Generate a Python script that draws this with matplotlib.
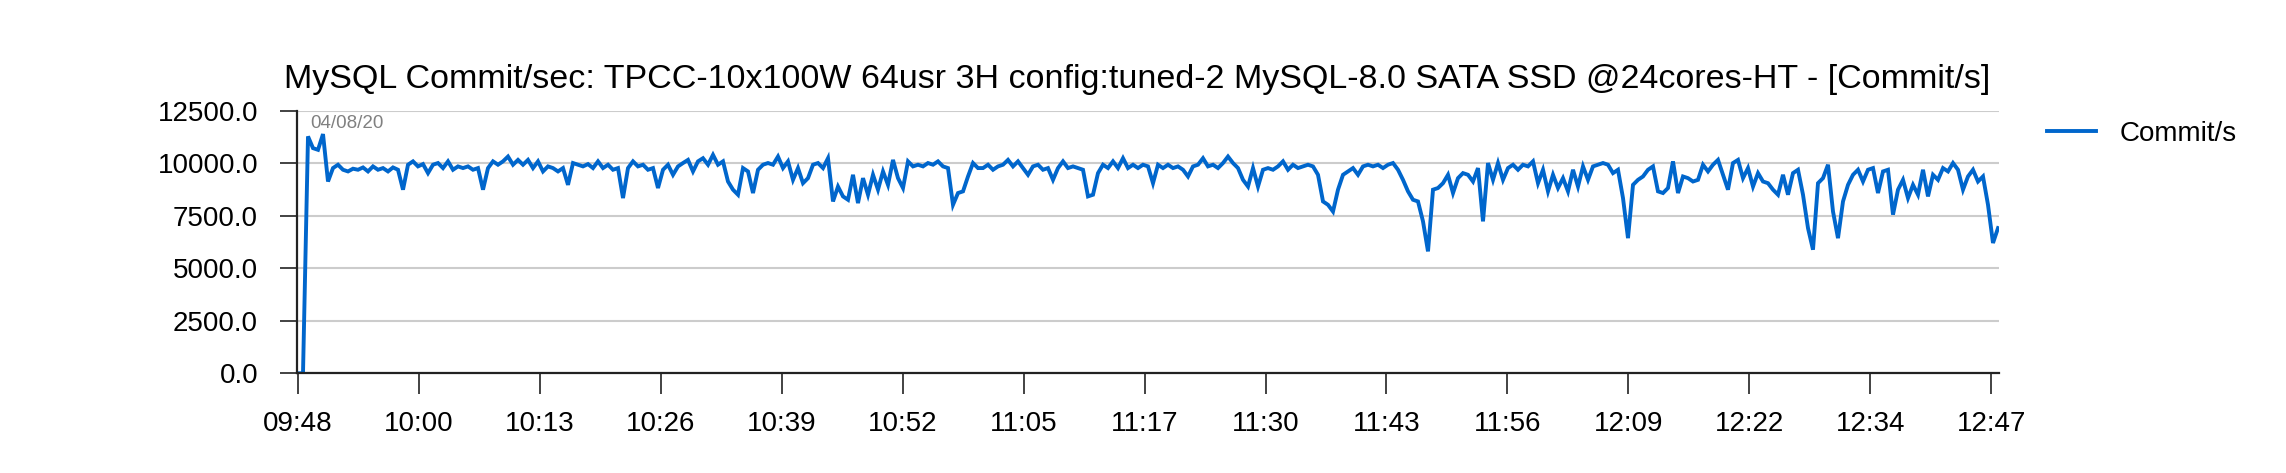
import numpy as np
import matplotlib
matplotlib.use("Agg")
from matplotlib import pyplot as plt
from matplotlib.ticker import FormatStrFormatter

plt.rcParams['font.family'] = ['Liberation Sans', 'DejaVu Sans']

title = "MySQL Commit/sec: TPCC-10x100W 64usr 3H config:tuned-2 MySQL-8.0 SATA SSD @24cores-HT - [Commit/s]"
series_label = "Commit/s"
date_label = "04/08/20"

x_tick_labels = ["09:48", "10:00", "10:13", "10:26", "10:39", "10:52", "11:05", "11:17",
                 "11:30", "11:43", "11:56", "12:09", "12:22", "12:34", "12:47"]
y_ticks = [0, 2500, 5000, 7500, 10000, 12500]

# commit/s samples (evenly spaced in time)
commits_part1 = [
    0, 0, 11290, 10730, 10650, 11400, 9140, 9780, 9940, 9700,
    9620, 9750, 9700, 9810, 9620, 9860, 9700, 9780, 9620, 9810,
    9700, 8750, 9940, 10100, 9860, 9970, 9540, 9940, 10020, 9780,
    10100, 9700, 9860, 9780, 9860, 9700, 9780, 8750, 9780, 10100,
    9940, 10100, 10330, 9940, 10170, 9940, 10170, 9780, 10100, 9620,
    9860, 9780, 9620, 9780, 8980, 10020, 9940, 9860, 9970, 9780,
    10100, 9780, 9940, 9700, 9780, 8350, 9780, 10100, 9860,
]
commits_part2 = [
    9940, 9700, 9780, 8830, 9700, 9940, 9460, 9860, 10020, 10170,
    9620, 10100, 10250, 9940, 10410, 9940, 10100, 9140, 8750, 8510,
    9780, 9620, 8590, 9700, 9940, 10020, 9940, 10330, 9780, 10100,
    9220, 9780, 9060, 9300, 9940, 10020, 9780, 10250, 8190, 8900,
    8430, 8270, 9460, 8110, 9300, 8510, 9460, 8750, 9620, 8980,
    10170, 9300, 8830, 10100, 9860, 9940, 9860, 10020, 9940, 10100,
    9860, 9780, 8030, 8590, 8670, 9380, 10020, 9780,
]
commits_part3 = [
    9780, 9940, 9700, 9860, 9940, 10170, 9860, 10100, 9780, 9460,
    9860, 9940, 9700, 9780, 9220, 9780, 10100, 9780, 9860, 9780,
    9700, 8430, 8510, 9540, 9940, 9780, 10100, 9780, 10250, 9780,
    9940, 9780, 9940, 9860, 9060, 9940, 9780, 9940, 9780, 9860,
    9700, 9380, 9860, 9940, 10250, 9860, 9940, 9780, 10020, 10330,
    10020, 9780, 9220, 8900, 9780, 8900, 9700, 9780, 9700, 9860,
    10100, 9700, 9940, 9780, 9860, 9940, 9860, 9460,
]
commits_part4 = [
    8190, 8030, 7710, 8750, 9460, 9620, 9780, 9460, 9860, 9940,
    9860, 9940, 9780, 9940, 10020, 9700, 9220, 8670, 8270, 8190,
    7240, 5810, 8750, 8830, 9060, 9460, 8590, 9300, 9540, 9460,
    9140, 9780, 7240, 10020, 9220, 10020, 9220, 9780, 9940, 9700,
    9940, 9860, 10100, 9060, 9700, 8670, 9460, 8830, 9300, 8670,
    9700, 8900, 9860, 9220, 9860, 9940, 10020, 9940, 9540, 9700,
    8350, 6440, 8980, 9220, 9380, 9700, 9860, 8670,
]
commits_part5 = [
    8590, 8830, 10100, 8590, 9380, 9300, 9140, 9220, 9940, 9620,
    9940, 10170, 9460, 8750, 10020, 10170, 9300, 9780, 8900, 9540,
    9140, 9060, 8750, 8510, 9460, 8510, 9540, 9700, 8510, 6920,
    5890, 9060, 9300, 9940, 7710, 6440, 8190, 8980, 9460, 9700,
    9140, 9700, 9780, 8590, 9620, 9700, 7560, 8750, 9220, 8350,
    8980, 8510, 9700, 8430, 9460, 9220, 9780, 9620, 10020, 9700,
    8750, 9380, 9700, 9140, 9380, 8030, 6210, 6920,
]

commits = np.array(commits_part1 + commits_part2 + commits_part3 + commits_part4 + commits_part5, dtype=float)
x = np.arange(len(commits))

W, H = 2286, 473
fig = plt.figure(figsize=(W / 100, H / 100), dpi=100)
fig.set_facecolor("white")
ax = fig.add_axes([297 / W, 1 - 373.3 / H, (1999 - 297) / W, (373.3 - 111) / H])

for s in ["top", "right"]:
    ax.spines[s].set_visible(False)
for s in ["left", "bottom"]:
    ax.spines[s].set_color("#222222")
    ax.spines[s].set_linewidth(1.6)

ax.plot(x, commits, color="#0066CC", linewidth=2.8, label=series_label,
        solid_joinstyle="miter")

ax.set_xlim(-0.2, len(commits) - 0.8)
ax.set_ylim(0, 12500)
ax.set_yticks(y_ticks)
ax.yaxis.set_major_formatter(FormatStrFormatter('%.1f'))
# ticks are evenly spread over the run, last one just short of the final sample
ax.set_xticks(np.linspace(0, (len(commits) - 1) * 0.996, len(x_tick_labels)))
ax.set_xticklabels(x_tick_labels)

ax.tick_params(axis='y', length=12, width=1.2, pad=16, labelsize=20, colors="#222222",
               labelcolor="black")
ax.tick_params(axis='x', length=15, width=1.2, pad=12, labelsize=20, colors="#222222",
               labelcolor="black")

ax.yaxis.grid(True, color="#cccccc", linewidth=1.5)
ax.set_axisbelow(True)

ax.text(310 / W, 1 - 128 / H, date_label, transform=fig.transFigure, fontsize=13.5,
        color="#808080", ha="left", va="baseline")

fig.text(1137 / W, 1 - 88 / H, title, fontsize=24.5, ha="center", va="baseline")

fig.legend(loc="center left", bbox_to_anchor=(2047 / W, 1 - 134 / H), frameon=False,
           fontsize=20, handlelength=1.75, handletextpad=0.85, borderpad=0,
           borderaxespad=0)

fig.savefig("out.png", dpi=100, facecolor="white")
